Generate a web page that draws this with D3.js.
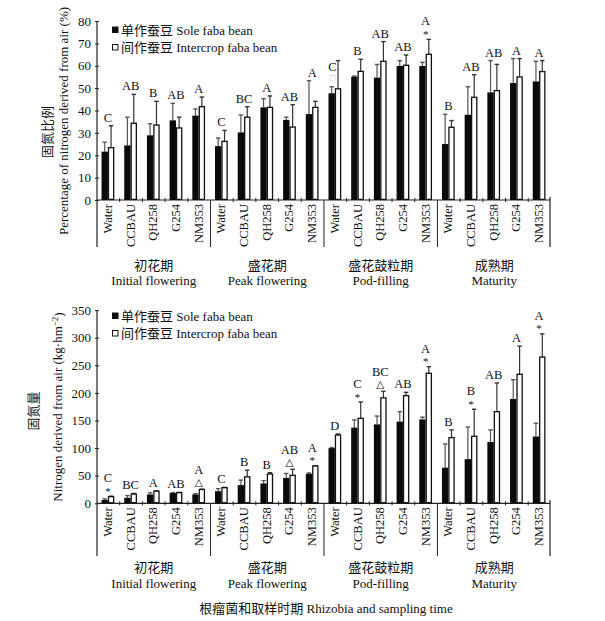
<!DOCTYPE html>
<html><head><meta charset="utf-8">
<script src="https://cdn.jsdelivr.net/npm/d3@7"></script>
<style>
body{margin:0;background:#fff;}
text{font-family:"Liberation Serif","Times New Roman","Noto Sans CJK SC",serif;fill:#111;}
.cn{font-family:"Liberation Serif","Noto Sans CJK SC",serif;}
</style></head>
<body>
<svg id="c" width="605" height="621"></svg>
<script>
const categories = ["Water","CCBAU","QH258","G254","NM353"];
const stagesCn = ["初花期","盛花期","盛花鼓粒期","成熟期"];
const stagesEn = ["Initial flowering","Peak flowering","Pod-filling","Maturity"];
const seriesNames = ["单作蚕豆 Sole faba bean","间作蚕豆 Intercrop faba bean"];

// Panel A: percentage of nitrogen derived from air (%)
const pctSole    = [21.6,24.4,28.9,35.6,37.7, 24.1,30.2,41.4,35.8,38.4, 47.7,55.1,54.7,59.9,59.9, 25.0,38.1,48.1,52.3,53.0];
const pctSoleErr = [4.2,12.6,5.2,7.6,3.0, 3.6,7.8,3.9,1.2,14.9, 2.9,0.3,5.9,2.4,1.6, 13.3,12.5,14.2,10.9,9.0];
const pctInter    = [23.4,34.3,33.5,32.2,41.7, 26.2,37.0,41.4,32.6,41.4, 49.7,57.5,62.0,60.2,65.1, 32.5,45.9,48.9,55.0,57.4];
const pctInterErr = [9.8,12.9,10.6,4.8,4.3, 4.9,4.7,5.1,10.0,2.7, 12.6,5.4,8.8,4.6,6.7, 3.0,10.1,11.7,8.2,4.9];
const pctLetters = ["C","AB","B","AB","A", "C","BC","A","AB","A", "C","B","AB","AB","A", "B","AB","AB","A","A"];
const pctMarks   = ["","","","","", "","","","","", "□","","","","*", "","","","",""];
const pctTicks = [0,10,20,30,40,50,60,70,80];

// Panel B: nitrogen derived from air (kg·hm-2)
const nSole    = [6,10,16,18.5,16, 22,33,36,46,53.5, 100,137,143,148,152, 64.5,80,111,189,121];
const nSoleErr = [2,4,3,1,1.5, 4.5,9,5,8,1.5, 1,14,15,18,4, 43,58,22,35,24];
const nInter    = [12,16.8,22,19.3,25, 28.3,48,53,50.7,67.6, 123.7,154,191,195,235.5, 119,121.4,166,233.7,265];
const nInterErr = [1,1,0.5,0.5,0.5, 0.5,12,2.4,11,0.5, 1.8,29.5,12,6,12, 14,49,52,51,42];
const nLetters = ["C","BC","A","AB","A", "C","B","B","AB","A", "D","C","BC","AB","A", "B","B","AB","A","A"];
const nMarks   = ["*","","","","△", "","","","△","*", "","*","△","","*", "","*","","","*"];
const nTicks = [0,50,100,150,200,250,300,350];

const svg = d3.select("#c");
const keys = [];
stagesEn.forEach((s,i)=>categories.forEach(c=>keys.push(i+"|"+c)));

const x = d3.scaleBand().domain(keys).range([97,550]).paddingInner(0.44).paddingOuter(0.2);
const xs = d3.scaleBand().domain([0,1]).range([0,x.bandwidth()]);
const step = x.step();
const x0 = 97, x1 = 550;

function panel(cfg){
  const g = svg.append("g");
  const y = d3.scaleLinear().domain([0,cfg.max]).range([cfg.bottom,cfg.top]);
  const ax = g.append("g").attr("transform",`translate(${x0},0)`)
    .call(d3.axisLeft(y).tickValues(cfg.ticks).tickSize(3).tickPadding(3));
  ax.select(".domain").remove();
  ax.selectAll("line").attr("stroke","#222").attr("x2",2).attr("x1",-2);
  ax.selectAll("text").attr("font-size",13).style("font-family","Liberation Serif");
  g.append("line").attr("x1",x0).attr("x2",x0).attr("y1",cfg.top).attr("y2",cfg.sepBottom).attr("stroke","#222").attr("stroke-width",1.2);
  g.append("line").attr("x1",x0).attr("x2",x1).attr("y1",cfg.bottom).attr("y2",cfg.bottom).attr("stroke","#222").attr("stroke-width",1.2);
  keys.forEach((k,i)=>{
    if(i===0) return;
    const bx = x0 + i*step;
    if(i%5===0){
      g.append("line").attr("x1",bx).attr("x2",bx).attr("y1",cfg.bottom).attr("y2",cfg.sepBottom).attr("stroke","#222").attr("stroke-width",1);
    } else {
      g.append("line").attr("x1",bx).attr("x2",bx).attr("y1",cfg.bottom-2).attr("y2",cfg.bottom+2).attr("stroke","#222");
    }
  });
  g.append("line").attr("x1",x1).attr("x2",x1).attr("y1",cfg.bottom-3).attr("y2",cfg.sepBottom).attr("stroke","#222").attr("stroke-width",1.2);

  const rows = keys.map((k,i)=>({k,i,vals:[cfg.sole[i],cfg.inter[i]],errs:[cfg.soleErr[i],cfg.interErr[i]]}));
  rows.forEach(r=>{
    [0,1].forEach(s=>{
      const cx = x(r.k)+xs(s)+xs.bandwidth()/2;
      const yt = y(r.vals[s]+r.errs[s]);
      const col = s===0 ? "#555" : "#333";
      g.append("line").attr("x1",cx).attr("x2",cx).attr("y1",y(r.vals[s])).attr("y2",yt).attr("stroke",col).attr("stroke-width",1.2);
      g.append("line").attr("x1",cx-2.2).attr("x2",cx+2.2).attr("y1",yt).attr("y2",yt).attr("stroke",col).attr("stroke-width",1.4);
    });
  });
  rows.forEach(r=>{
    [0,1].forEach(s=>{
      const v = r.vals[s];
      if(s===0){
        g.append("rect").attr("x",x(r.k)+xs(s)).attr("width",xs.bandwidth())
          .attr("y",y(v)).attr("height",cfg.bottom-y(v)).attr("fill","#0a0a0a");
      } else {
        g.append("rect").attr("x",x(r.k)+xs(s)+0.6).attr("width",xs.bandwidth()-1.2)
          .attr("y",y(v)).attr("height",cfg.bottom-y(v)-0.6).attr("fill","#fff").attr("stroke","#111").attr("stroke-width",1.3);
      }
    });
    const cx = x(r.k)+x.bandwidth()/2;
    const top = Math.min(y(r.vals[0]+r.errs[0]), y(r.vals[1]+r.errs[1]));
    const mark = cfg.marks[r.i];
    let lb = top-4, lx = cx;
    if(mark==="*"){
      g.append("text").attr("x",cx).attr("y",top-1.5).attr("text-anchor","middle").attr("font-size",11).text(mark);
      lb = top-14;
    } else if(mark==="△"){
      g.append("text").attr("x",cx).attr("y",top-3).attr("text-anchor","middle").attr("font-size",10.5).style("font-family","DejaVu Sans").text(mark);
      lb = top-15;
    } else if(mark==="□"){
      g.append("text").attr("x",cx-2.5).attr("y",top+20).attr("text-anchor","middle").attr("font-size",9).style("fill","#bbb").text(mark);
      lb = top+10.5; lx = cx-2.5;
    }
    g.append("text").attr("x",lx).attr("y",lb).attr("text-anchor","middle").attr("font-size",12.5).text(cfg.letters[r.i]);
    g.append("text").attr("transform",`translate(${cx+4},${cfg.bottom+4}) rotate(-90)`)
      .attr("text-anchor","end").attr("font-size",12.5).text(r.k.split("|")[1]);
  });
  stagesEn.forEach((s,i)=>{
    const cx = x0 + (i*5+2.5)*step;
    g.append("text").attr("class","cn").attr("x",cx).attr("y",cfg.cnY).attr("dy","0.35em").attr("text-anchor","middle").attr("font-size",13).text(stagesCn[i]);
    g.append("text").attr("x",cx).attr("y",cfg.enY).attr("dy","0.35em").attr("text-anchor","middle").attr("font-size",13).text(s);
  });
  seriesNames.forEach((n,i)=>{
    const ly = cfg.legY + i*17.5;
    g.append("rect").attr("x",112.5).attr("y",ly-3).attr("width",5.5).attr("height",5.5)
      .attr("fill",i===0?"#0a0a0a":"#fff").attr("stroke","#111").attr("stroke-width",1);
    g.append("text").attr("class","cn").attr("x",121).attr("y",ly).attr("dy","0.35em").attr("font-size",13).text(n);
  });
  g.append("text").attr("class","cn").attr("transform",`translate(${cfg.cnTX},${cfg.cnTY}) rotate(-90)`).attr("text-anchor","middle").attr("dy","0.35em").attr("font-size",13).text(cfg.cnTitle);
  const et = g.append("text").attr("transform",`translate(${cfg.enTX},${cfg.enTY}) rotate(-90)`).attr("text-anchor","middle").attr("dy","0.35em").attr("font-size",13);
  cfg.enTitle(et);
}

panel({top:21,bottom:200,max:80,ticks:pctTicks,sepBottom:247,cnY:265,enY:280,legY:30,
  sole:pctSole,soleErr:pctSoleErr,inter:pctInter,interErr:pctInterErr,letters:pctLetters,marks:pctMarks,
  cnTitle:"固氮比例",cnTX:47,cnTY:132,enTX:63,enTY:121,
  enTitle:t=>t.text("Percentage of nitrogen derived from air (%)")});

panel({top:310.1,bottom:503.3,max:350,ticks:nTicks,sepBottom:556,cnY:567,enY:583,legY:316,
  sole:nSole,soleErr:nSoleErr,inter:nInter,interErr:nInterErr,letters:nLetters,marks:nMarks,
  cnTitle:"固氮量",cnTX:33,cnTY:411,enTX:57,enTY:407,
  enTitle:t=>{t.append("tspan").text("Nitrogen derived from air (kg·hm");
    t.append("tspan").attr("dy","-0.4em").attr("font-size",9).text("−2");
    t.append("tspan").attr("dy","0.4em").text(")");}});

svg.append("text").attr("class","cn").attr("x",326).attr("y",608).attr("dy","0.35em").attr("text-anchor","middle").attr("font-size",13)
  .text("根瘤菌和取样时期  Rhizobia and sampling time");
</script>
</body></html>
